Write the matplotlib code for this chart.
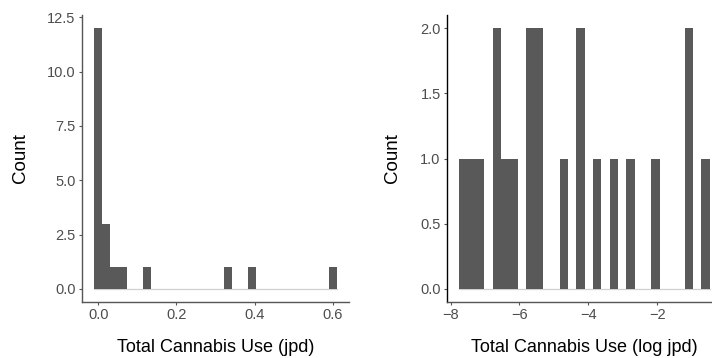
import matplotlib
matplotlib.use("Agg")
import matplotlib.pyplot as plt
import numpy as np

plt.rcParams["font.family"] = ["Liberation Sans", "DejaVu Sans"]

# left panel: raw jpd, 30 bins
jpd_bin_start = 0.0          # centre of first bin
jpd_bin_width = 0.6 / 29
jpd_counts = [12, 3, 1, 1, 0, 0, 1, 0, 0, 0, 0, 0, 0, 0, 0,
              0, 1, 0, 0, 1, 0, 0, 0, 0, 0, 0, 0, 0, 0, 1]
jpd_xticks = [0.0, 0.2, 0.4, 0.6]
jpd_yticks = [0.0, 2.5, 5.0, 7.5, 10.0, 12.5]

# right panel: log jpd, 30 bins
log_bin_start = -7.618       # centre of first bin
log_bin_width = 0.242
log_counts = [1, 1, 1, 0, 2, 1, 1, 0, 2, 2, 0, 0, 1, 0, 2,
              0, 1, 0, 1, 0, 1, 0, 0, 1, 0, 0, 0, 2, 0, 1]
log_xticks = [-8, -6, -4, -2]
log_yticks = [0.0, 0.5, 1.0, 1.5, 2.0]

bar_col = "#595959"
tick_col = "#4D4D4D"


def hist_panel(ax, start, width, counts, xticks, yticks, xlabel, axcol):
    edges = start - width / 2 + width * np.arange(len(counts) + 1)
    counts = np.array(counts)
    # zero-height bins show up as a faint baseline
    ax.plot([edges[0], edges[-1]], [0, 0], color="#D0D0D0", lw=0.9, zorder=1)
    ax.stairs(counts, edges, fill=True, color=bar_col, baseline=0, zorder=2)
    pad = (edges[-1] - edges[0]) * 0.05
    ax.set_xlim(edges[0] - pad, edges[-1] + pad)
    ymax = counts.max()
    ax.set_ylim(-ymax * 0.05, ymax * 1.05)
    ax.set_xticks(xticks)
    ax.set_yticks(yticks)
    ax.set_yticklabels([f"{v:.1f}" for v in yticks])
    if isinstance(xticks[0], int):
        ax.set_xticklabels([f"\u2212{abs(v)}" if v < 0 else str(v) for v in xticks])
    else:
        ax.set_xticklabels([f"{v:.1f}" for v in xticks])
    for s in ["top", "right"]:
        ax.spines[s].set_visible(False)
    ax.spines["left"].set_color(axcol)
    ax.spines["bottom"].set_color("#555555")
    ax.spines["left"].set_linewidth(1.0)
    ax.spines["bottom"].set_linewidth(1.0)
    ax.tick_params(axis="both", colors="#555555", labelcolor=tick_col,
                   labelsize=10.5, length=2.5, width=0.8, pad=2)
    ax.set_xlabel(xlabel, fontsize=13)
    ax.set_ylabel("Count", fontsize=13.5)
    ax.xaxis.set_label_coords(0.5, -0.13)


fig = plt.figure(figsize=(7.12, 3.58), dpi=100)
ax1 = fig.add_axes([82 / 712, 56 / 358, 267 / 712, 287 / 358])
ax2 = fig.add_axes([447 / 712, 56 / 358, 275 / 712, 287 / 358])

hist_panel(ax1, jpd_bin_start, jpd_bin_width, jpd_counts, jpd_xticks,
           jpd_yticks, "Total Cannabis Use (jpd)", "#555555")
hist_panel(ax2, log_bin_start, log_bin_width, log_counts, log_xticks,
           log_yticks, "Total Cannabis Use (log jpd)", "#000000")
ax1.yaxis.set_label_coords(-53 / 267, 0.5)
ax2.yaxis.set_label_coords(-46 / 275, 0.5)

fig.savefig("out.png", dpi=100)
